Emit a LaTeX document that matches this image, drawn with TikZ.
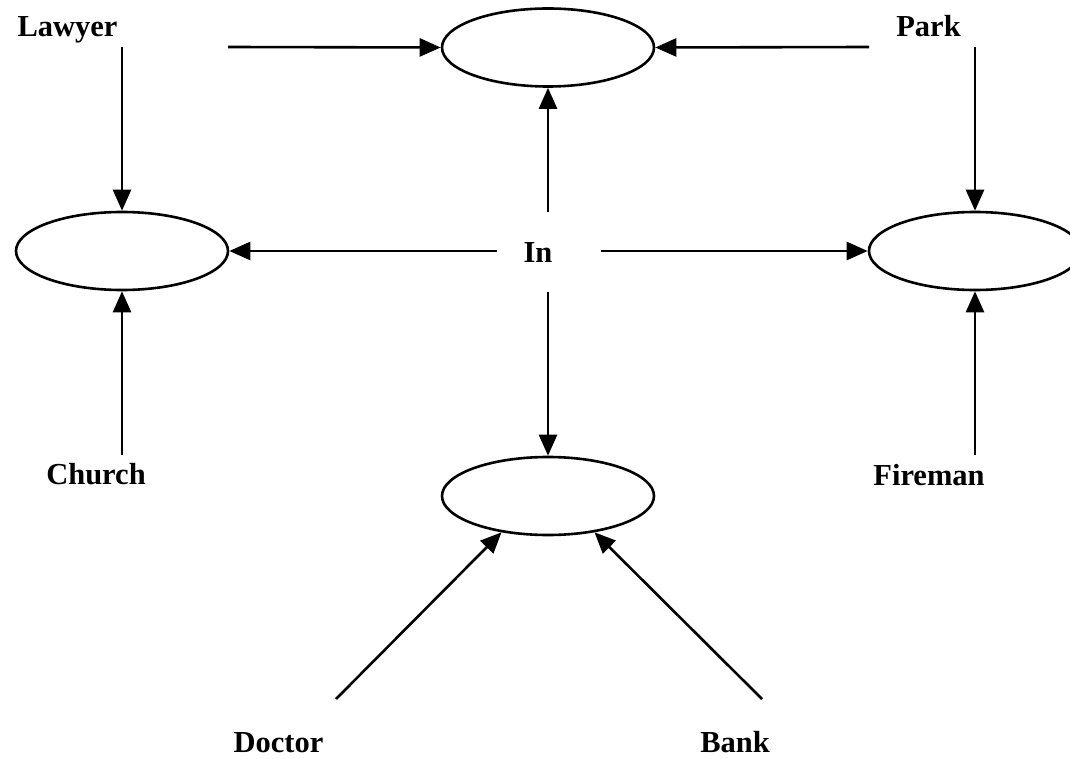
\documentclass[tikz,border=0pt]{standalone}
\usepackage{fontspec}
\setmainfont{Liberation Serif}
\usetikzlibrary{shapes.geometric, arrows.meta}

\begin{document}
\begin{tikzpicture}[
    x=0.5pt, y=-0.5pt,
    every node/.style={font=\bfseries\fontsize{15.25}{18}\selectfont},
    oval/.style={draw, ellipse, line width=1.3pt, inner sep=0pt,
                 minimum width=106pt, minimum height=39pt},
    lbl/.style={anchor=base, inner sep=0pt},
    link/.style={-{Triangle[length=10.5pt, width=9pt]}, line width=1.3pt},
  ]
    \useasboundingbox (0,0) rectangle (1070,759);

    % the four empty ovals
    \node[oval] (top) at (548,47.5) {};
    \node[oval] (left) at (122,251) {};
    \node[oval] (right) at (975,251) {};
    \node[oval] (bottom) at (548,496) {};

    % labels
    \node[lbl] (lawyer) at (67.5,37) {Lawyer};
    \node[lbl] (park) at (928.5,37) {Park};
    \node[lbl] (in) at (538,263) {In};
    \node[lbl] (church) at (96,484) {Church};
    \node[lbl] (fireman) at (929,485) {Fireman};
    \node[lbl] (doctor) at (278.5,752) {Doctor};
    \node[lbl] (bank) at (735,752) {Bank};

    % free ends of the connectors
    \coordinate (lawyer-out) at (228,47);
    \coordinate (lawyer-down) at (122,47);
    \coordinate (park-out) at (869,47);
    \coordinate (park-down) at (975,47);
    \coordinate (in-up) at (548,212);
    \coordinate (in-left) at (497,251);
    \coordinate (in-right) at (601,251);
    \coordinate (in-down) at (548,292);
    \coordinate (church-up) at (122,455);
    \coordinate (fireman-up) at (975,455);
    \coordinate (doctor-up) at (336,699);
    \coordinate (bank-up) at (762,699);

    % connectors
    \draw[link] (lawyer-out) -- (top.west);
    \draw[link] (lawyer-down) -- (left.north);
    \draw[link] (park-out) -- (top.east);
    \draw[link] (park-down) -- (right.north);
    \draw[link] (in-up) -- (top.south);
    \draw[link] (in-left) -- (left.east);
    \draw[link] (in-right) -- (right.west);
    \draw[link] (in-down) -- (bottom.north);
    \draw[link] (church-up) -- (left.south);
    \draw[link] (fireman-up) -- (right.south);
    \draw[link] (doctor-up) -- (bottom.218);
    \draw[link] (bank-up) -- (bottom.322);
\end{tikzpicture}
\end{document}
